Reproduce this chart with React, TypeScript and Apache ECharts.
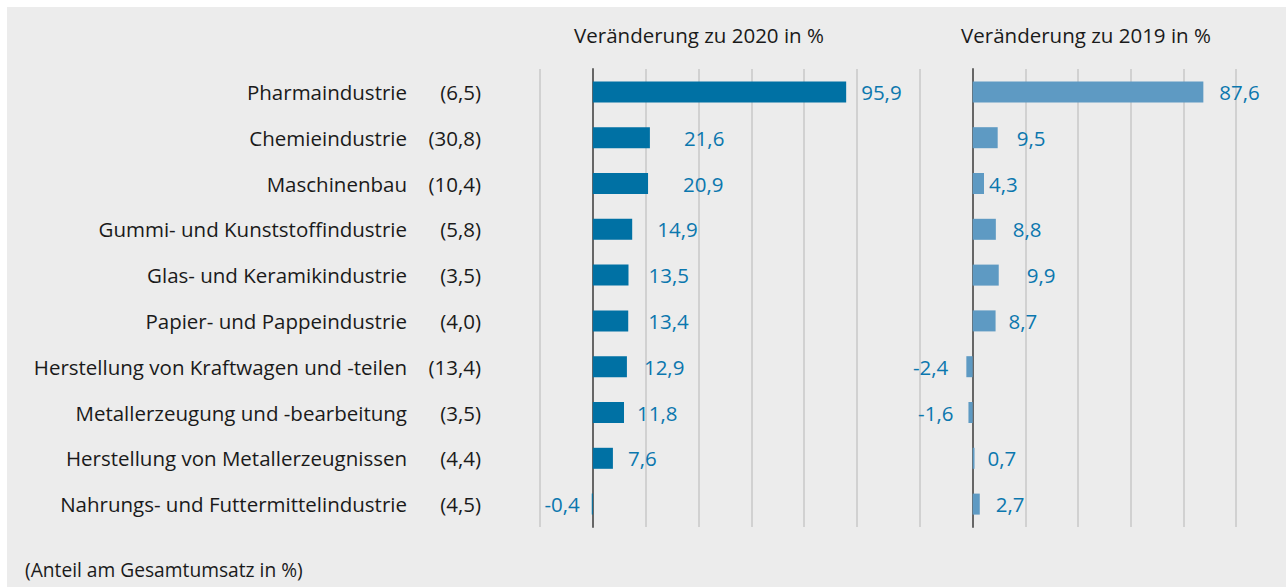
import React, { useEffect, useRef } from "react";
import * as echarts from "echarts";

const categories = [
  "Pharmaindustrie",
  "Chemieindustrie",
  "Maschinenbau",
  "Gummi- und Kunststoffindustrie",
  "Glas- und Keramikindustrie",
  "Papier- und Pappeindustrie",
  "Herstellung von Kraftwagen und -teilen",
  "Metallerzeugung und -bearbeitung",
  "Herstellung von Metallerzeugnissen",
  "Nahrungs- und Futtermittelindustrie",
];
const shares = ["6,5", "30,8", "10,4", "5,8", "3,5", "4,0", "13,4", "3,5", "4,4", "4,5"];
const change2020 = [95.9, 21.6, 20.9, 14.9, 13.5, 13.4, 12.9, 11.8, 7.6, -0.4];
const change2019 = [87.6, 9.5, 4.3, 8.8, 9.9, 8.7, -2.4, -1.6, 0.7, 2.7];
const axisMin = -20;
const axisMax = 100;
const axisStep = 20;

const titleLeft = "Veränderung zu 2020 in %";
const titleRight = "Veränderung zu 2019 in %";
const footnote = "(Anteil am Gesamtumsatz in %)";

// label gaps (style only)
const gap2020 = [15, 34, 35, 25, 20, 20, 17, 13, 15, 12];
const gap2019 = [16, 19, 5, 17, 28, 13, 18, 15, 13, 16];

const FONT = "'Open Sans', sans-serif";
const FS = 20.5;
const TEXT = "#1a1a1a";
const LABEL = "#0b77ae";

const fmt = (v: number) => String(v).replace(".", ",");

export default function App() {
  const ref = useRef<HTMLDivElement>(null);
  useEffect(() => {
    if (!ref.current) return;
    const chart = echarts.init(ref.current, undefined, { renderer: "svg" });
    const mkData = (vals: number[], gaps: number[]) =>
      vals.map((v, i) => ({
        value: v,
        label: { position: v < 0 ? "left" : "right", distance: gaps[i] },
      }));
    const grids = [
      { left: 533, width: 317, top: 62, height: 458, containLabel: false, outerBoundsMode: "none" },
      { left: 913, width: 316, top: 62, height: 458, containLabel: false, outerBoundsMode: "none" },
    ];
    const xAxis = [0, 1].map((i) => ({
      type: "value",
      gridIndex: i,
      min: axisMin,
      max: axisMax,
      interval: axisStep,
      axisLabel: { show: false },
      axisTick: { show: false },
      axisLine: { show: false },
      splitLine: { show: true, lineStyle: { color: "#c8c8c8", width: 1.5 } },
    }));
    const yAxis = [0, 1].map((i) => ({
      type: "category",
      gridIndex: i,
      inverse: true,
      data: categories,
      axisTick: { show: false },
      axisLine: { show: true, onZero: true, lineStyle: { color: "#666666", width: 2 } },
      splitLine: { show: false },
      axisLabel:
        i === 0
          ? {
              show: true,
              margin: 59,
              align: "right",
              formatter: (val: string, idx: number) => `{n|${val}}{s|(${shares[idx]})}`,
              rich: {
                n: { fontFamily: FONT, fontSize: FS, color: TEXT },
                s: { fontFamily: FONT, fontSize: FS, color: TEXT, width: 74, align: "right" },
              },
            }
          : { show: false },
    }));
    const labelBase = {
      show: true,
      fontFamily: FONT,
      fontSize: FS,
      color: LABEL,
      formatter: (p: any) => fmt(p.value),
    };
    chart.setOption({
      animation: false,
      backgroundColor: "#ececec",
      grid: grids,
      xAxis,
      yAxis,
      series: [
        {
          type: "bar",
          xAxisIndex: 0,
          yAxisIndex: 0,
          barWidth: 21,
          itemStyle: { color: "#0071a4" },
          label: labelBase,
          data: mkData(change2020, gap2020),
        },
        {
          type: "bar",
          xAxisIndex: 1,
          yAxisIndex: 1,
          barWidth: 21,
          itemStyle: { color: "#5e9ac3" },
          label: labelBase,
          data: mkData(change2019, gap2019),
        },
      ],
      graphic: [
        {
          type: "text",
          x: 692,
          y: 28,
          style: { text: titleLeft, fontFamily: FONT, fontSize: FS, fill: TEXT, textAlign: "center", textVerticalAlign: "middle" },
        },
        {
          type: "text",
          x: 1079,
          y: 28,
          style: { text: titleRight, fontFamily: FONT, fontSize: FS, fill: TEXT, textAlign: "center", textVerticalAlign: "middle" },
        },
        {
          type: "text",
          x: 18,
          y: 562,
          style: { text: footnote, fontFamily: FONT, fontSize: 19.2, fill: TEXT, textAlign: "left", textVerticalAlign: "middle" },
        },
      ],
    });
    return () => chart.dispose();
  }, []);
  return (
    <div
      ref={ref}
      style={{ position: "absolute", left: 7, top: 7, width: 1279, height: 580 }}
    />
  );
}
